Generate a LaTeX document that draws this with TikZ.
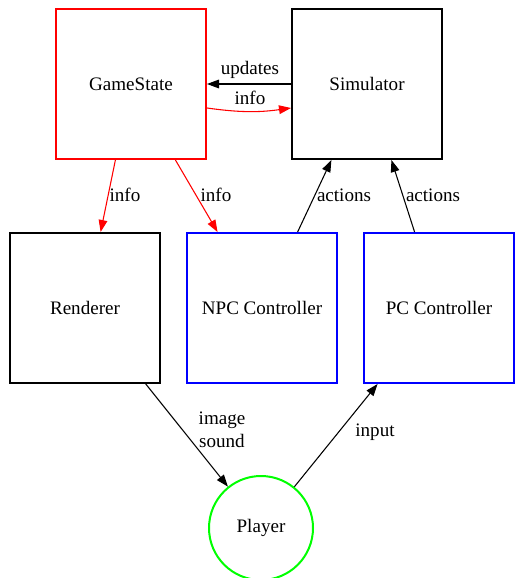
\documentclass[tikz,border=0pt]{standalone}
\usepackage{fontspec}
\setmainfont{Liberation Serif}
\usetikzlibrary{arrows.meta}
\begin{document}
\begin{tikzpicture}[x=0.75pt, y=-0.75pt,
        every node/.style={font=\fontsize{14.3}{17}\selectfont},
        box/.style={draw, line width=1.5pt, minimum size=112.5pt, inner sep=0pt},
        ball/.style={draw, circle, line width=1.5pt, minimum size=78pt, inner sep=0pt},
        link/.style={-{Triangle[length=9pt, width=6.5pt]}, line width=0.8pt}]
    \useasboundingbox (0,0) rectangle (514,578);

    \node[box, red] (gs) at (131,84) {\color{black}GameState};
    \node[box] (sim) at (367,84) {Simulator};
    \node[box] (ren) at (85,308) {Renderer};
    \node[box, blue] (npc) at (262,308) {\color{black}NPC Controller};
    \node[box, blue] (pc) at (439,308) {\color{black}PC Controller};
    \node[ball, green] (pl) at (261,528) {\color{black}Player};

    \coordinate (gsinfo) at ([yshift=-18pt]gs.east);
    \coordinate (siminfo) at ([yshift=-18pt]sim.west);

    \draw[link] (sim.west) -- (gs.east);
    \draw[link, red] (gsinfo) to[bend right=8] (siminfo);
    \draw[link, red] (gs) -- (ren);
    \draw[link, red] (gs) -- (npc);
    \draw[link] (npc) -- (sim);
    \draw[link] (pc) -- (sim);
    \draw[link] (ren) -- (pl);
    \draw[link] (pl) -- (pc);

    \node (lupd) at (250,70) {updates};
    \node (linfo) at (250,98) {info};
    \node (linfoa) at (125,195) {info};
    \node (linfob) at (216,195) {info};
    \node (lacta) at (344,195) {actions};
    \node (lactb) at (433,195) {actions};
    \node[align=center] (lmedia) at (222,430) {image\\sound};
    \node (linput) at (375,432) {input};
\end{tikzpicture}
\end{document}
